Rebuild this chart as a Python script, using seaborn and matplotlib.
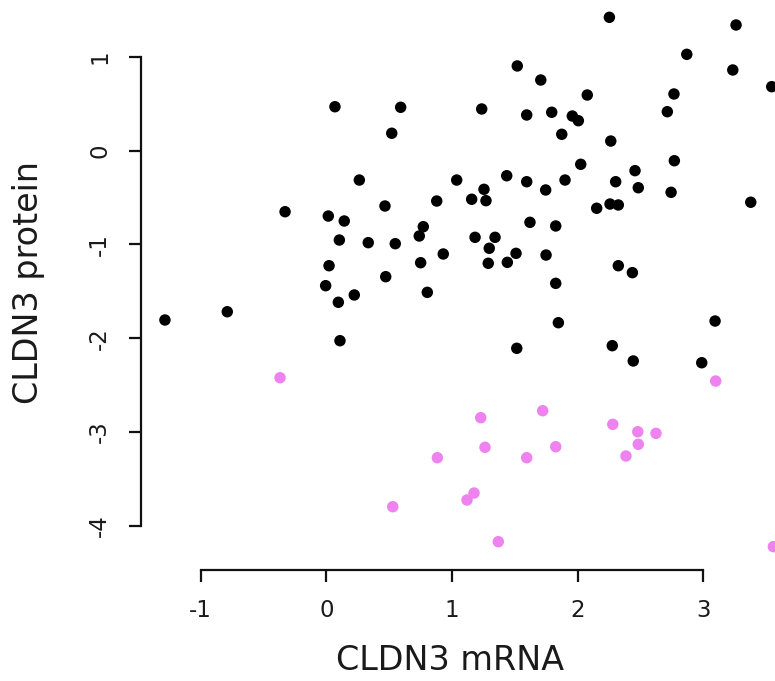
import numpy as np
import pandas as pd
import matplotlib
matplotlib.use("Agg")
import matplotlib.pyplot as plt
import seaborn as sns

# CLDN3 mRNA vs. protein levels per sample
mrna_main = [0.068, 0.591, 0.520, 0.262, -0.329, 0.015, 0.142, 0.466, 0.103, 0.333,
             0.548, 0.021, -0.006, 0.222, 0.095, 0.472, -1.285, -0.789, 0.108, 2.252,
             3.260, 2.868, 3.234, 3.544, 1.519, 1.706, 2.076, 2.766, 1.236, 1.594,
             1.793, 1.957, 2.005, 2.713, 1.873, 2.263, 2.024, 2.769, 2.456, 1.037,
             1.435, 1.594, 1.899, 2.302, 2.482, 2.743, 1.745, 1.254, 1.156, 1.270,
             0.878, 2.151, 2.257, 2.323, 3.377, 0.771, 0.739, 1.183, 1.342, 1.296,
             1.620, 1.825, 0.930, 0.750, 1.288, 1.440, 1.509, 1.748, 0.803, 1.825,
             2.323, 2.435, 1.846, 3.093, 1.515, 2.275, 2.442, 2.987]
protein_main = [0.469, 0.463, 0.186, -0.313, -0.651, -0.697, -0.750, -0.590, -0.953, -0.981,
                -0.992, -1.227, -1.440, -1.539, -1.617, -1.344, -1.806, -1.718, -2.027, 1.423,
                1.341, 1.028, 0.861, 0.683, 0.904, 0.754, 0.594, 0.605, 0.445, 0.381,
                0.410, 0.370, 0.320, 0.416, 0.175, 0.103, -0.145, -0.107, -0.213, -0.313,
                -0.267, -0.331, -0.313, -0.331, -0.395, -0.444, -0.419, -0.412, -0.518, -0.533,
                -0.537, -0.614, -0.569, -0.579, -0.550, -0.811, -0.910, -0.924, -0.924, -1.041,
                -0.764, -0.803, -1.102, -1.195, -1.201, -1.191, -1.095, -1.113, -1.511, -1.415,
                -1.227, -1.301, -1.835, -1.817, -2.108, -2.080, -2.243, -2.262]

mrna_low = [-0.369, 3.098, 1.228, 1.721, 1.262, 1.825, 2.279, 2.478, 2.623, 2.482,
            2.384, 0.883, 1.594, 0.528, 1.119, 1.175, 1.368, 3.557]
protein_low = [-2.422, -2.457, -2.848, -2.774, -3.164, -3.158, -2.919, -2.998, -3.015, -3.132,
               -3.257, -3.275, -3.275, -3.798, -3.726, -3.652, -4.171, -4.224]

x_ticks = [-1, 0, 1, 2, 3]
y_ticks = [-4, -3, -2, -1, 0, 1]

df = pd.DataFrame({
    "mrna": mrna_main + mrna_low,
    "protein": protein_main + protein_low,
    "group": ["main"] * len(mrna_main) + ["low"] * len(mrna_low),
})

sns.set_theme(style="white")
text_color = "#1a1a1a"
plt.rcParams["font.family"] = ["DejaVu Sans"]

W, H = 775, 681
fig = plt.figure(figsize=(W / 100, H / 100), dpi=100)
# plot region: left axis line at x=141 px, bottom axis line at y=570 px
ax = fig.add_axes([141 / W, (H - 570) / H, (W - 141) / W, 570 / H])

sns.scatterplot(data=df, x="mrna", y="protein", hue="group",
                palette={"main": "black", "low": "violet"},
                s=68, linewidth=0, legend=False, ax=ax, clip_on=False)

ax.set_xlim(-1.4755, 3.570)
ax.set_ylim(-4.473, 1.6076)

for side in ("top", "right"):
    ax.spines[side].set_visible(False)
for side in ("left", "bottom"):
    ax.spines[side].set_color("#111111")
    ax.spines[side].set_linewidth(1.6)
ax.spines["left"].set_bounds(-4, 1)
ax.spines["bottom"].set_bounds(-1, 3)

ax.set_xticks(x_ticks)
ax.set_yticks(y_ticks)
ax.set_xticklabels([str(v) for v in x_ticks])
ax.set_yticklabels([str(v) for v in y_ticks], rotation=90, va="center")
ax.tick_params(axis="both", direction="out", length=8.6, width=1.6,
               color="#111111", labelsize=16.5, labelcolor=text_color,
               bottom=True, left=True)
ax.tick_params(axis="x", pad=12)
ax.tick_params(axis="y", pad=13)

ax.set_xlabel("CLDN3 mRNA", fontsize=24, color=text_color, va="center")
ax.set_ylabel("CLDN3 protein", fontsize=24, color=text_color, va="center")
ax.xaxis.set_label_coords((450 - 141) / 634, (570 - 660) / 570)
ax.yaxis.set_label_coords((29 - 141) / 634, (570 - 283) / 570)

fig.savefig("out.png", dpi=100)
